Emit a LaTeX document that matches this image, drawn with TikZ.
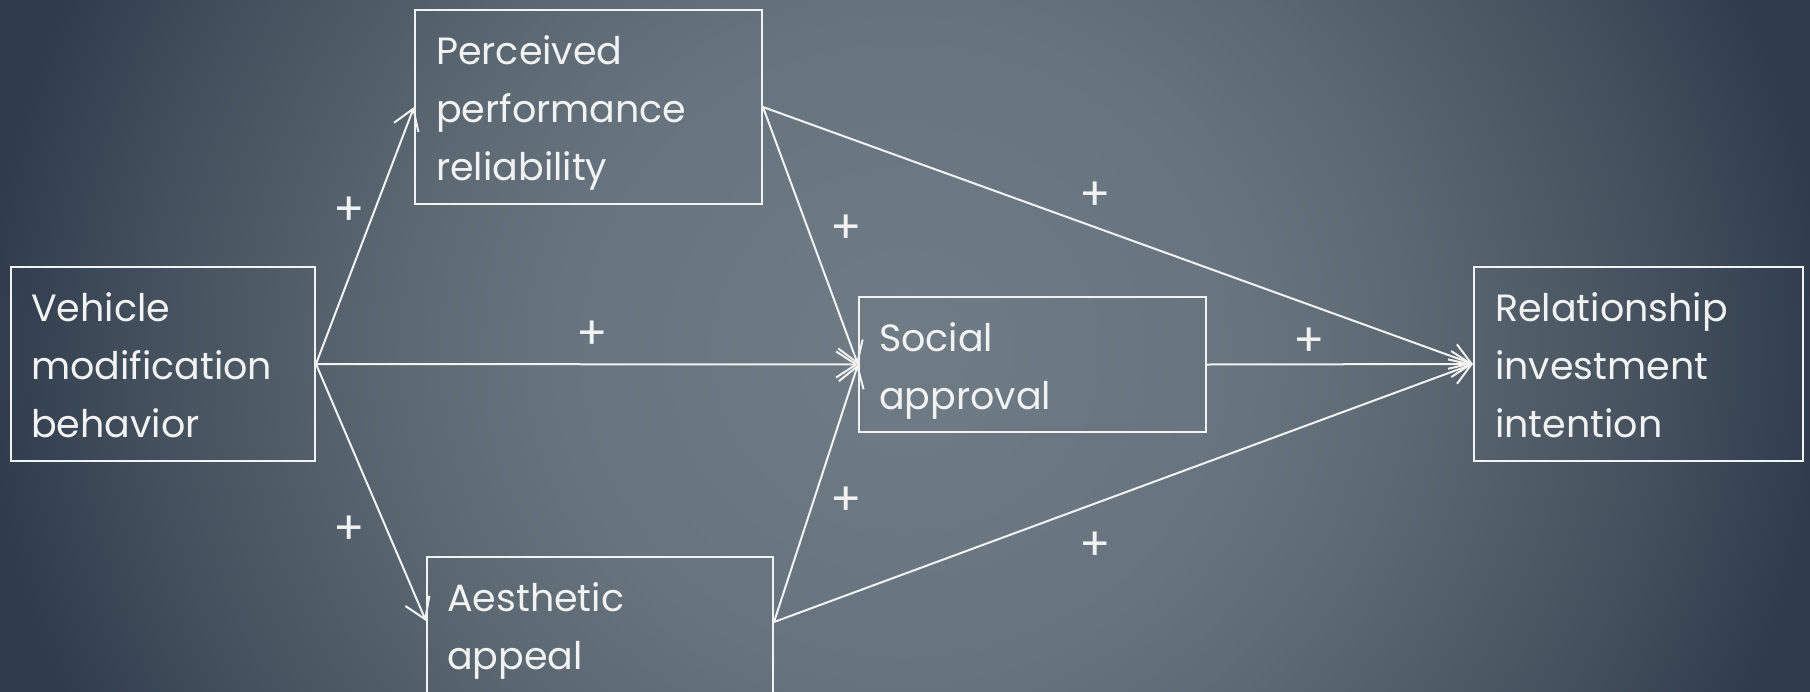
\documentclass[tikz,border=0pt]{standalone}
\usepackage{fontspec}
\setmainfont{Poppins}
\usetikzlibrary{arrows.meta, calc, positioning}

\definecolor{bgedge}{RGB}{46,59,75}
\definecolor{bgouter}{RGB}{68,80,93}
\definecolor{bgring}{RGB}{92,104,114}
\definecolor{bginner}{RGB}{103,116,127}
\definecolor{bgmid}{RGB}{111,123,133}
\definecolor{ink}{RGB}{242,242,242}

\pgfdeclareradialshading{slidebg}{\pgfpoint{0bp}{0bp}}{%
  color(0bp)=(bgmid); color(9bp)=(bginner); color(13bp)=(bgring);
  color(19.5bp)=(bgouter); color(24bp)=(bgedge); color(50bp)=(bgedge)}

\tikzset{
  box/.style={draw=ink, line width=2pt, inner sep=0pt},
  lbl/.style={text=ink, font=\fontsize{38pt}{58pt}\selectfont, align=left, inner sep=0pt, text width=300pt},
  plus/.style={text=ink, font=\fontsize{46pt}{46pt}\selectfont, inner sep=0pt},
  link/.style={draw=ink, line width=2pt, -{Straight Barb[length=20pt,width=26pt]}}
}

\begin{document}
\begin{tikzpicture}[x=1pt, y=-1pt]
  \useasboundingbox (0,0) rectangle (1810,691);
  \clip (0,0) rectangle (1810,691);
  % background
  \shade[shading=slidebg] (-60,-560) rectangle (1870,1260);

  % boxes
  \node[box, minimum width=304pt, minimum height=194pt] (veh) at (163,364) {};
  \node[box, minimum width=347pt, minimum height=194pt] (perc) at (588.5,107) {};
  \node[box, minimum width=346pt, minimum height=194pt] (aes) at (600,654) {};
  \node[box, minimum width=347pt, minimum height=135pt] (soc) at (1032.5,364.5) {};
  \node[box, minimum width=329pt, minimum height=194pt] (rel) at (1638.5,364) {};

  % box texts, hung from the top left corner
  \node[lbl, anchor=base west] (vehtxt) at ($(veh.north west)+(21,55)$) {Vehicle\\modification\\behavior};
  \node[lbl, anchor=base west] (perctxt) at ($(perc.north west)+(22,55)$) {Perceived\\performance\\reliability};
  \node[lbl, anchor=base west] (aestxt) at ($(aes.north west)+(21,55)$) {Aesthetic\\appeal};
  \node[lbl, anchor=base west] (soctxt) at ($(soc.north west)+(21,55)$) {Social\\approval};
  \node[lbl, anchor=base west] (reltxt) at ($(rel.north west)+(22,55)$) {Relationship\\investment\\intention};

  % paths
  \coordinate (aesin) at ($(aes.north west)+(0,65)$);
  \coordinate (aesout) at ($(aes.north east)+(0,66)$);
  \draw[link] (veh.east) -- (perc.west);
  \draw[link] (veh.east) -- (aesin);
  \draw[link] (veh.east) -- (soc.west);
  \draw[link] (perc.east) -- (soc.west);
  \draw[link] (aesout) -- (soc.west);
  \draw[link] (perc.east) -- (rel.west);
  \draw[link] (soc.east) -- (rel.west);
  \draw[link] (aesout) -- (rel.west);

  % signs
  \foreach \px/\py [count=\i] in {349/211, 349/530, 592/335, 846/229, 846/501, 1095/196, 1095/546, 1309/342}
    \node[plus] (plus\i) at (\px,\py) {+};
\end{tikzpicture}
\end{document}
